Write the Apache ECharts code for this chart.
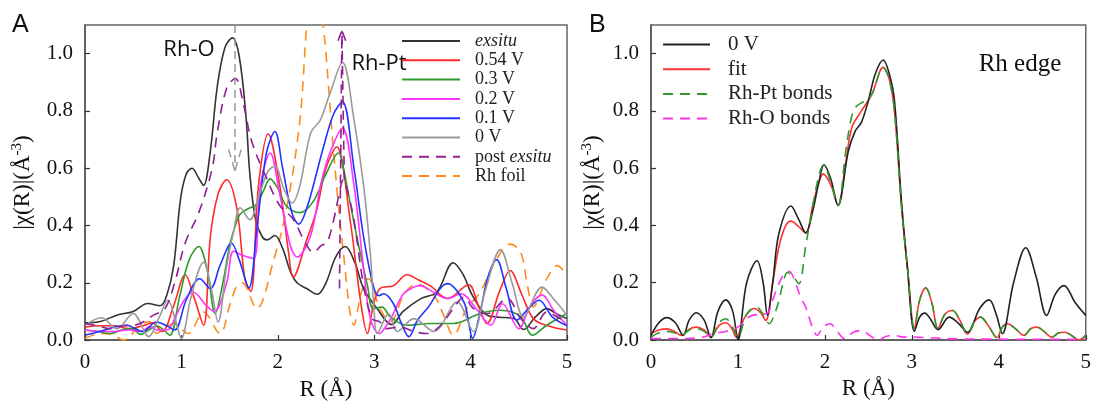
<!DOCTYPE html>
<html><head><meta charset="utf-8">
<script src="https://cdn.jsdelivr.net/npm/echarts@6/dist/echarts.min.js"></script>
<style>html,body{margin:0;padding:0;background:#fff}#c{width:1094px;height:406px}</style>
</head><body><div id="c"></div>
<script>
// ---------- Panel A data [R (Å), |χ(R)|] ----------
const exsitu = [[0,0.06],[0.16,0.065],[0.33,0.087],[0.5,0.1],[0.65,0.128],[0.78,0.12],[0.85,0.158],[0.92,0.26],[0.99,0.49],[1.05,0.58],[1.11,0.6],[1.18,0.565],[1.23,0.54],[1.3,0.66],[1.37,0.88],[1.45,1.02],[1.53,1.055],[1.6,0.99],[1.67,0.78],[1.71,0.58],[1.77,0.42],[1.84,0.36],[1.89,0.35],[1.97,0.365],[2.05,0.32],[2.13,0.24],[2.2,0.2],[2.3,0.18],[2.41,0.16],[2.5,0.2],[2.6,0.29],[2.7,0.327],[2.8,0.27],[2.89,0.18],[3.03,0.11],[3.18,0.054],[3.3,0.1],[3.48,0.144],[3.65,0.168],[3.82,0.27],[3.92,0.23],[4.02,0.155],[4.17,0.087],[4.3,0.08],[4.45,0.075],[4.55,0.037],[4.67,0.08],[4.79,0.11],[4.9,0.09],[5.0,0.075]];
const v054 = [[0,0.045],[0.15,0.05],[0.3,0.05],[0.45,0.04],[0.6,0.05],[0.7,0.06],[0.8,0.03],[0.92,0.12],[1.04,0.228],[1.13,0.15],[1.23,0.052],[1.3,0.36],[1.38,0.51],[1.47,0.56],[1.575,0.46],[1.66,0.21],[1.72,0.17],[1.8,0.54],[1.9,0.72],[2.02,0.54],[2.11,0.31],[2.16,0.22],[2.3,0.35],[2.4,0.45],[2.5,0.6],[2.61,0.675],[2.75,0.42],[2.86,0.133],[2.93,0.023],[2.99,0.12],[3.06,0.18],[3.2,0.19],[3.34,0.228],[3.46,0.21],[3.58,0.19],[3.76,0.145],[3.98,0.193],[4.08,0.12],[4.17,0.058],[4.3,0.17],[4.41,0.243],[4.53,0.16],[4.65,0.075],[4.8,0.05],[5.0,0.035]];
const v03 = [[0,0.035],[0.13,0.03],[0.26,0.023],[0.38,0.035],[0.48,0.04],[0.58,0.02],[0.66,0.035],[0.74,0.05],[0.8,0.04],[0.88,0.017],[0.98,0.15],[1.08,0.28],[1.18,0.327],[1.27,0.24],[1.35,0.093],[1.43,0.2],[1.5,0.33],[1.56,0.4],[1.61,0.44],[1.7,0.46],[1.78,0.474],[1.85,0.52],[1.92,0.563],[2.0,0.53],[2.09,0.468],[2.23,0.445],[2.37,0.485],[2.5,0.58],[2.63,0.653],[2.68,0.6],[2.75,0.48],[2.82,0.36],[2.93,0.19],[2.99,0.11],[3.08,0.115],[3.17,0.08],[3.34,0.052],[3.58,0.058],[3.82,0.058],[4.1,0.093],[4.31,0.104],[4.52,0.082],[4.64,0.017],[4.79,0.052],[5.0,0.093]];
const v02 = [[0,0.035],[0.15,0.03],[0.3,0.03],[0.45,0.035],[0.58,0.03],[0.67,0.047],[0.75,0.035],[0.85,0.035],[0.95,0.09],[1.03,0.14],[1.12,0.168],[1.26,0.12],[1.34,0.1],[1.47,0.2],[1.54,0.31],[1.64,0.295],[1.75,0.285],[1.82,0.54],[1.92,0.653],[2.02,0.51],[2.13,0.33],[2.2,0.29],[2.34,0.364],[2.45,0.55],[2.54,0.653],[2.67,0.74],[2.79,0.54],[2.89,0.25],[2.96,0.075],[3.05,0.023],[3.17,0.075],[3.3,0.16],[3.41,0.185],[3.48,0.19],[3.6,0.17],[3.76,0.145],[3.9,0.162],[4.07,0.104],[4.21,0.052],[4.33,0.127],[4.5,0.04],[4.62,0.12],[4.74,0.158],[4.87,0.1],[5.0,0.052]];
const v01 = [[0,0.017],[0.15,0.03],[0.3,0.045],[0.43,0.052],[0.6,0.03],[0.74,0.063],[0.85,0.05],[0.93,0.035],[1.05,0.14],[1.19,0.214],[1.3,0.18],[1.4,0.26],[1.52,0.338],[1.6,0.28],[1.7,0.182],[1.78,0.38],[1.88,0.65],[1.97,0.728],[2.05,0.6],[2.15,0.44],[2.22,0.405],[2.3,0.46],[2.4,0.58],[2.47,0.67],[2.58,0.79],[2.67,0.832],[2.79,0.6],[2.89,0.36],[2.99,0.19],[3.05,0.155],[3.1,0.162],[3.2,0.127],[3.28,0.06],[3.36,0.012],[3.45,0.07],[3.55,0.11],[3.76,0.197],[3.93,0.133],[3.98,0.06],[4.02,0.006],[4.1,0.1],[4.18,0.22],[4.27,0.281],[4.37,0.18],[4.48,0.07],[4.6,0.11],[4.71,0.139],[4.85,0.08],[5.0,0.05]];
const v0 = [[0,0.052],[0.17,0.078],[0.33,0.04],[0.5,0.093],[0.66,0.012],[0.77,0.08],[0.86,0.139],[0.93,0.08],[1.0,0.006],[1.1,0.15],[1.23,0.272],[1.31,0.18],[1.38,0.063],[1.47,0.26],[1.54,0.376],[1.61,0.462],[1.71,0.42],[1.8,0.5],[1.9,0.59],[1.97,0.607],[2.06,0.53],[2.15,0.478],[2.23,0.54],[2.34,0.722],[2.44,0.768],[2.54,0.86],[2.67,0.97],[2.79,0.77],[2.89,0.54],[2.96,0.3],[3.0,0.1],[3.03,0.023],[3.15,0.092],[3.24,0.03],[3.41,0.075],[3.62,0.03],[3.86,0.133],[4.03,0.03],[4.15,0.17],[4.31,0.316],[4.43,0.2],[4.55,0.081],[4.74,0.185],[4.87,0.14],[5.0,0.087]];
const postExsitu = [[0,0.058],[0.13,0.05],[0.26,0.04],[0.4,0.05],[0.55,0.055],[0.71,0.087],[0.83,0.11],[0.93,0.2],[1.04,0.34],[1.18,0.445],[1.32,0.6],[1.37,0.72],[1.47,0.88],[1.56,0.913],[1.64,0.83],[1.73,0.693],[1.89,0.56],[2.02,0.47],[2.16,0.422],[2.27,0.35],[2.37,0.306],[2.45,0.33],[2.51,0.34],[2.58,0.42],[2.63,0.5],[2.68,0.56],[2.73,0.51],[2.79,0.42],[2.89,0.19],[2.98,0.075],[3.06,0.063],[3.13,0.04],[3.27,0.046],[3.41,0.03],[3.55,0.023],[3.69,0.052],[3.82,0.11],[3.93,0.15],[4.03,0.11],[4.17,0.092],[4.38,0.145],[4.52,0.075],[4.65,0.04],[4.79,0.098],[4.93,0.075],[5.0,0.065]];
const rhFoil = [[0,0.006],[0.16,0.023],[0.28,0.02],[0.4,0.0],[0.57,0.052],[0.67,0.064],[0.74,0.023],[0.82,0.04],[0.92,0.058],[1.07,0.023],[1.23,0.098],[1.4,0.023],[1.5,0.12],[1.575,0.19],[1.63,0.2],[1.78,0.11],[1.96,0.283],[2.09,0.457],[2.23,0.77],[2.3,1.1],[2.385,1.38],[2.47,1.1],[2.5,1.0],[2.58,0.653],[2.68,0.306],[2.79,0.052],[2.87,0.17],[2.94,0.214],[3.06,0.11],[3.17,0.064],[3.31,0.16],[3.44,0.195],[3.62,0.156],[3.72,0.087],[3.82,0.017],[3.96,0.11],[4.1,0.168],[4.27,0.283],[4.41,0.335],[4.52,0.306],[4.59,0.19],[4.65,0.116],[4.79,0.214],[4.9,0.26],[5.0,0.225]];

// ---------- Panel B data ----------
const b0V = [[0,0.016],[0.09,0.06],[0.18,0.078],[0.28,0.06],[0.37,0.016],[0.44,0.07],[0.52,0.095],[0.61,0.07],[0.69,0.008],[0.77,0.1],[0.86,0.14],[0.94,0.1],[1.0,0.0],[1.1,0.2],[1.22,0.277],[1.29,0.2],[1.34,0.086],[1.4,0.2],[1.47,0.37],[1.61,0.468],[1.7,0.42],[1.78,0.374],[1.86,0.45],[1.93,0.55],[1.99,0.612],[2.07,0.56],[2.15,0.47],[2.27,0.66],[2.35,0.73],[2.42,0.76],[2.5,0.836],[2.58,0.93],[2.67,0.978],[2.74,0.93],[2.8,0.836],[2.88,0.486],[2.95,0.25],[3.03,0.03],[3.09,0.08],[3.15,0.094],[3.22,0.07],[3.3,0.036],[3.43,0.08],[3.53,0.06],[3.64,0.027],[3.78,0.11],[3.89,0.14],[3.97,0.09],[4.04,0.022],[4.17,0.2],[4.31,0.322],[4.43,0.22],[4.55,0.086],[4.65,0.16],[4.75,0.19],[4.88,0.13],[5.0,0.086]];
const bFit = [[0,0.022],[0.09,0.035],[0.18,0.039],[0.27,0.03],[0.35,0.016],[0.44,0.038],[0.52,0.045],[0.61,0.035],[0.69,0.01],[0.78,0.05],[0.86,0.06],[0.93,0.04],[0.98,0.01],[1.08,0.08],[1.19,0.11],[1.26,0.095],[1.32,0.068],[1.4,0.2],[1.47,0.324],[1.55,0.4],[1.61,0.415],[1.7,0.395],[1.78,0.374],[1.86,0.47],[1.93,0.55],[1.98,0.58],[2.07,0.54],[2.15,0.47],[2.24,0.62],[2.31,0.742],[2.42,0.8],[2.54,0.858],[2.67,0.952],[2.74,0.91],[2.8,0.8],[2.88,0.47],[2.95,0.25],[3.03,0.04],[3.09,0.14],[3.16,0.182],[3.23,0.13],[3.3,0.04],[3.38,0.09],[3.47,0.103],[3.55,0.07],[3.64,0.02],[3.72,0.065],[3.79,0.08],[3.88,0.05],[3.98,0.008],[4.04,0.045],[4.1,0.057],[4.19,0.04],[4.29,0.016],[4.37,0.04],[4.44,0.045],[4.52,0.03],[4.61,0.01],[4.69,0.025],[4.76,0.027],[4.84,0.015],[4.92,0.0],[5.0,0.016]];
const bRhPt = [[0,0.01],[0.09,0.025],[0.18,0.03],[0.27,0.025],[0.35,0.016],[0.44,0.035],[0.52,0.04],[0.61,0.03],[0.69,0.01],[0.78,0.06],[0.86,0.074],[0.93,0.05],[1.0,0.01],[1.1,0.09],[1.21,0.115],[1.29,0.09],[1.36,0.057],[1.42,0.09],[1.47,0.137],[1.52,0.2],[1.57,0.236],[1.64,0.22],[1.7,0.196],[1.78,0.33],[1.85,0.45],[1.92,0.56],[1.98,0.61],[2.07,0.55],[2.15,0.47],[2.24,0.66],[2.3,0.77],[2.35,0.812],[2.46,0.836],[2.54,0.858],[2.67,0.952],[2.74,0.91],[2.8,0.8],[2.88,0.47],[2.95,0.25],[3.03,0.04],[3.09,0.14],[3.16,0.182],[3.23,0.13],[3.3,0.04],[3.38,0.09],[3.47,0.103],[3.55,0.07],[3.64,0.02],[3.72,0.065],[3.79,0.08],[3.88,0.05],[3.98,0.008],[4.04,0.045],[4.1,0.057],[4.19,0.04],[4.29,0.016],[4.37,0.04],[4.44,0.045],[4.52,0.03],[4.61,0.01],[4.69,0.025],[4.76,0.027],[4.84,0.015],[4.92,0.0],[5.0,0.016]];
const bRhO = [[0,0.005],[0.3,0.005],[0.6,0.01],[0.71,0.022],[0.86,0.03],[1.0,0.045],[1.1,0.075],[1.17,0.086],[1.26,0.09],[1.34,0.094],[1.4,0.14],[1.47,0.196],[1.53,0.23],[1.59,0.24],[1.66,0.2],[1.72,0.15],[1.78,0.115],[1.85,0.05],[1.91,0.016],[1.98,0.045],[2.06,0.057],[2.14,0.03],[2.23,0.004],[2.33,0.028],[2.42,0.033],[2.52,0.015],[2.62,0.0],[2.7,0.012],[2.8,0.016],[2.9,0.01],[3.0,0.01],[3.2,0.008],[3.5,0.004],[4.0,0.003],[5.0,0.002]];

const legendA = ['exsitu','0.54 V','0.3 V','0.2 V','0.1 V','0 V','post exsitu','Rh foil'];
const legendB = ['0 V ','fit','Rh-Pt bonds','Rh-O bonds'];
const xTicks = {min:0, max:5, interval:1};
const yTicks = {min:0, max:1.1, interval:0.2};

const SERIF = 'Liberation Serif';
const chart = echarts.init(document.getElementById('c'), null, {renderer:'canvas'});

function xAxis(i){
  return {type:'value', gridIndex:i, min:xTicks.min, max:xTicks.max, interval:xTicks.interval,
    axisLine:{show:true, onZero:false, lineStyle:{color:'#555', width:1.5}},
    axisTick:{show:true, inside:true, length:5, lineStyle:{color:'#333', width:1.2}},
    axisLabel:{color:'#111', fontFamily:SERIF, fontSize:21, margin:12},
    splitLine:{show:false},
    name:'R (Å)', nameLocation:'middle', nameGap:37,
    nameTextStyle:{color:'#111', fontFamily:SERIF, fontSize:23}};
}
function yAxis(i, gap){
  return {type:'value', gridIndex:i, min:yTicks.min, max:yTicks.max, interval:yTicks.interval,
    axisLine:{show:true, onZero:false, lineStyle:{color:'#555', width:1.5}},
    axisTick:{show:true, inside:true, length:5, lineStyle:{color:'#333', width:1.2}},
    axisLabel:{color:'#111', fontFamily:SERIF, fontSize:21, margin:12, showMaxLabel:false,
      formatter:v=>v.toFixed(1)},
    splitLine:{show:false},
    name:'|χ(R)|(Å{s|-3})', nameLocation:'middle', nameGap:gap,
    nameTextStyle:{color:'#111', fontFamily:SERIF, fontSize:23,
      rich:{s:{fontFamily:SERIF, fontSize:15, color:'#111', verticalAlign:'top', padding:[0,0,10,0]}}}};
}
function line(name, data, color, dashed, gi, extra){
  return Object.assign({type:'line', name, data, xAxisIndex:gi, yAxisIndex:gi,
    symbol:'none', showSymbol:false, smooth:0.35, clip:true,
    lineStyle:{color, width:1.6, type: dashed ? [10,7] : 'solid'},
    itemStyle:{color}}, extra||{});
}
const arrowGray = {silent:true, symbol:['none','none'], label:{show:false}, animation:false,
  lineStyle:{color:'#999', width:1.5, type:[8,5]},
  data:[[{coord:[1.555,1.1]},{coord:[1.555,0.59]}],
        [{coord:[1.49,0.665]},{coord:[1.555,0.59]}],
        [{coord:[1.62,0.665]},{coord:[1.555,0.59]}]]};
const arrowPurple = {silent:true, symbol:['none','none'], label:{show:false}, animation:false,
  lineStyle:{color:'#8e2090', width:1.6, type:[9,6]},
  data:[[{coord:[2.64,0.18]},{coord:[2.665,1.08]}],
        [{coord:[2.69,0.56]},{coord:[2.665,1.08]}],
        [{coord:[2.625,1.045]},{coord:[2.665,1.08]}],
        [{coord:[2.705,1.045]},{coord:[2.665,1.08]}]]};

const option = {
  animation:false,
  backgroundColor:'#fff',
  grid:[{left:85, right:527, top:25, bottom:64, show:true, borderColor:'#666', borderWidth:1.5},
        {left:651, right:5, top:25, bottom:66, show:true, borderColor:'#666', borderWidth:1.5}],
  xAxis:[xAxis(0), xAxis(1)],
  yAxis:[yAxis(0,50), yAxis(1,46)],
  legend:[
    {data:legendA, orient:'vertical', left:401, top:32, padding:0, itemWidth:58, itemHeight:18, itemGap:1.3,
     selectedMode:false, itemStyle:{opacity:0},
     textStyle:{fontFamily:SERIF, fontSize:18, color:'#222', padding:[0,0,0,10],
       rich:{i:{fontFamily:SERIF, fontSize:18, fontStyle:'italic', color:'#222'}}},
     formatter:n => n==='exsitu' ? '{i|exsitu}' : (n==='post exsitu' ? 'post {i|exsitu}' : n)},
    {data:legendB, orient:'vertical', left:662, top:34, padding:0, itemWidth:47, itemHeight:21, itemGap:3.7,
     selectedMode:false, itemStyle:{opacity:0},
     textStyle:{fontFamily:SERIF, fontSize:21, color:'#222', padding:[0,0,0,13]}}
  ],
  series:[
    line('Rh foil', rhFoil, '#ff8c1a', true, 0),
    line('exsitu', exsitu, '#333333', false, 0),
    line('0.54 V', v054, '#ff2a2a', false, 0),
    line('0.3 V', v03, '#2e9a2e', false, 0),
    line('0.2 V', v02, '#ff33ff', false, 0),
    line('0.1 V', v01, '#2233ff', false, 0),
    line('0 V', v0, '#9a9a9a', false, 0, {markLine:arrowGray}),
    line('post exsitu', postExsitu, '#8e2090', true, 0, {markLine:arrowPurple}),
    line('0 V ', b0V, '#222222', false, 1),
    line('Rh-Pt bonds', bRhPt, '#2e9a2e', true, 1),
    line('fit', bFit, '#ff3333', false, 1, {z:1}),
    line('Rh-O bonds', bRhO, '#ff33ee', true, 1)
  ],
  graphic:[
    {type:'text', left:12, top:13, style:{text:'A', font:'25px "Liberation Sans"', fill:'#111'}},
    {type:'text', left:589, top:13, style:{text:'B', font:'25px "Liberation Sans"', fill:'#111'}},
    {type:'text', x:189, y:50, style:{text:'Rh-O', font:'22px "Open Sans"', fill:'#111', align:'center', verticalAlign:'middle'}},
    {type:'text', x:379, y:64, style:{text:'Rh-Pt', font:'22px "Open Sans"', fill:'#111', align:'center', verticalAlign:'middle'}},
    {type:'text', x:1020, y:64, style:{text:'Rh edge', font:'25px "Liberation Serif"', fill:'#111', align:'center', verticalAlign:'middle'}}
  ]
};
chart.setOption(option);
</script></body></html>
